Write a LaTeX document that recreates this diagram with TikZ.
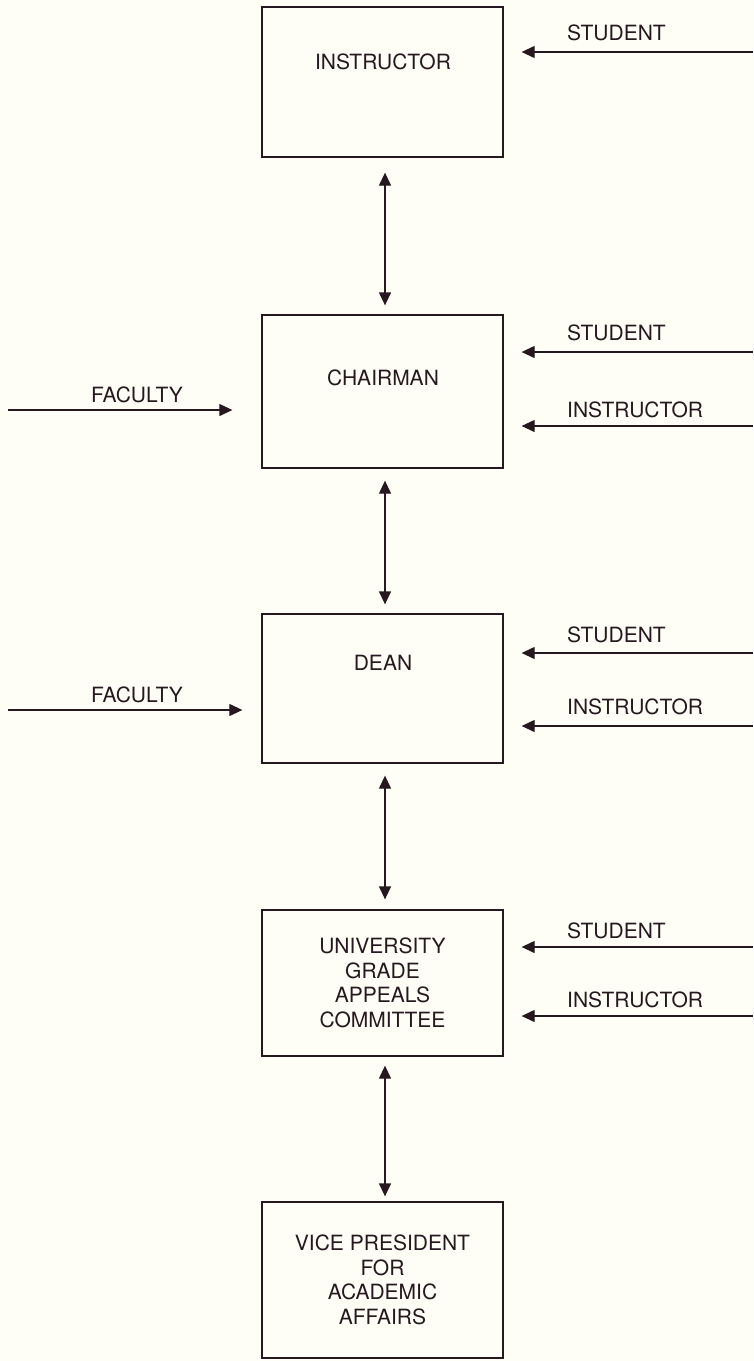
\documentclass[tikz,border=0pt]{standalone}
\usepackage{fontspec}
\setmainfont{TeX Gyre Heros}
\usetikzlibrary{arrows.meta}
\definecolor{ink}{RGB}{38,24,30}
\definecolor{paper}{RGB}{254,254,246}
\tikzset{
  office/.style={draw=ink, line width=1.3pt, minimum width=241pt, inner sep=0pt, align=center,
    text=ink, font=\fontsize{21}{24.5}\selectfont},
  tag/.style={text=ink, inner sep=0pt, font=\fontsize{21}{24.5}\selectfont},
  feed/.style={draw=ink, line width=1.2pt, -{Triangle[length=13pt,width=12pt]}},
  link/.style={draw=ink, line width=1.3pt, {Triangle[length=13pt,width=12pt]}-{Triangle[length=13pt,width=12pt]}},
}
\begin{document}
\begin{tikzpicture}[x=1pt,y=-1pt]
            \fill[paper] (0,0) rectangle (753,1361);

            \node[office, minimum height=150pt] (instr) at (382.5,82) {};
            \node[tag] (instrtxt) at (383,62) {INSTRUCTOR};
            \node[office, minimum height=153pt] (chair) at (382.5,391.5) {};
            \node[tag] (chairtxt) at (383,378) {CHAIRMAN};
            \node[office, minimum height=149pt] (dean) at (382.5,688.5) {};
            \node[tag] (deantxt) at (383,663) {DEAN};
            \node[office, minimum height=146pt] (ugac) at (382.5,983) {UNIVERSITY\\GRADE\\APPEALS\\COMMITTEE};
            \node[office, minimum height=156pt] (vp) at (382.5,1280) {VICE PRESIDENT\\FOR\\ACADEMIC\\AFFAIRS};

            \draw[link] ([xshift=2.5pt,yshift=-15pt]instr.south) -- ([xshift=2.5pt,yshift=9pt]chair.north);
            \draw[link] ([xshift=2.5pt,yshift=-12pt]chair.south) -- ([xshift=2.5pt,yshift=9pt]dean.north);
            \draw[link] ([xshift=2.5pt,yshift=-12pt]dean.south) -- ([xshift=2.5pt,yshift=10pt]ugac.north);
            \draw[link] ([xshift=2.5pt,yshift=-9pt]ugac.south) -- ([xshift=2.5pt,yshift=5pt]vp.north);

            \node[tag, anchor=west] (stu1) at (567,33) {STUDENT};
            \coordinate (s1) at (753,52);
            \draw[feed, shorten >=18pt] (s1) -- (s1 -| instr.east);

            \node[tag, anchor=west] (stu2) at (567,333) {STUDENT};
            \node[tag, anchor=west] (ins2) at (567,410) {INSTRUCTOR};
            \node[tag] (fac2) at (137,395) {FACULTY};
            \coordinate (s2) at (753,352);
            \coordinate (i2) at (753,426);
            \coordinate (f2) at (8,410);
            \draw[feed, shorten >=18pt] (s2) -- (s2 -| chair.east);
            \draw[feed, shorten >=18pt] (i2) -- (i2 -| chair.east);
            \draw[feed, shorten >=29pt] (f2) -- (f2 -| chair.west);

            \node[tag, anchor=west] (stu3) at (567,635) {STUDENT};
            \node[tag, anchor=west] (ins3) at (567,707) {INSTRUCTOR};
            \node[tag] (fac3) at (137,695) {FACULTY};
            \coordinate (s3) at (753,653);
            \coordinate (i3) at (753,726);
            \coordinate (f3) at (8,710);
            \draw[feed, shorten >=18pt] (s3) -- (s3 -| dean.east);
            \draw[feed, shorten >=18pt] (i3) -- (i3 -| dean.east);
            \draw[feed, shorten >=19pt] (f3) -- (f3 -| dean.west);

            \node[tag, anchor=west] (stu4) at (567,931) {STUDENT};
            \node[tag, anchor=west] (ins4) at (567,1000) {INSTRUCTOR};
            \coordinate (s4) at (753,947);
            \coordinate (i4) at (753,1016);
            \draw[feed, shorten >=18pt] (s4) -- (s4 -| ugac.east);
            \draw[feed, shorten >=18pt] (i4) -- (i4 -| ugac.east);
        \end{tikzpicture}
\end{document}
